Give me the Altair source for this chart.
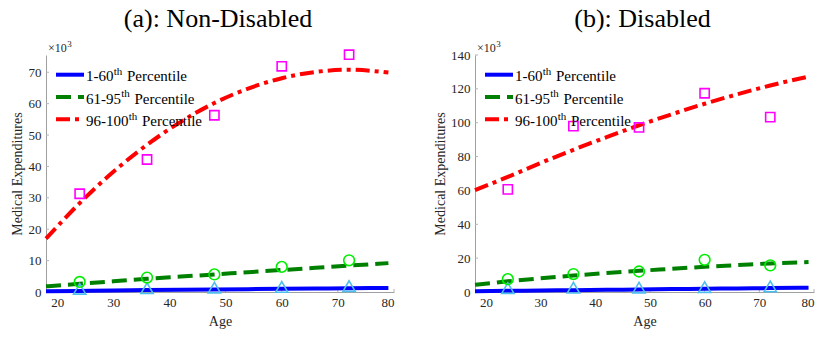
import altair as alt
import pandas as pd

SERIF = "'Liberation Serif', 'Times New Roman', Times, serif"

# Fitted profiles (thousands of dollars) by age
ages_fit = [18, 24, 30, 36, 42, 48, 54, 60, 66, 72, 79]
nd_low_fit = [0.2, 0.35, 0.5, 0.6, 0.7, 0.8, 0.9, 1.0, 1.1, 1.2, 1.3]
nd_mid_fit = [1.8, 2.6, 3.4, 4.2, 4.9, 5.6, 6.3, 7.0, 7.7, 8.4, 9.2]
nd_high_fit = [17.0, 28.3, 38.3, 46.9, 54.2, 60.2, 64.8, 68.1, 70.1, 70.8, 69.9]
d_low_fit = [0.5, 0.7, 0.9, 1.1, 1.3, 1.5, 1.7, 1.9, 2.1, 2.3, 2.5]
d_mid_fit = [4.3, 6.3, 8.1, 9.7, 11.2, 12.5, 13.7, 14.9, 15.9, 16.9, 17.7]
d_high_fit = [60.2, 68.0, 76.2, 84.0, 91.4, 98.5, 105.0, 111.2, 116.8, 122.0, 127.2]

# Observed group means by age
ages_obs = [24, 36, 48, 60, 72]
nd_low_obs = [1.0, 1.2, 1.4, 1.6, 1.9]
nd_mid_obs = [3.2, 4.6, 5.6, 8.0, 10.1]
nd_high_obs = [31.3, 42.2, 56.3, 71.9, 75.6]
d_low_obs = [2.3, 2.5, 2.6, 2.9, 3.3]
d_mid_obs = [7.6, 10.6, 12.1, 19.0, 15.7]
d_high_obs = [60.6, 98.0, 97.2, 117.4, 103.3]

group_numbers = ["1-60", "61-95", "96-100"]
x_ticks = [20, 30, 40, 50, 60, 70, 80]
nd_y_ticks = [0, 10, 20, 30, 40, 50, 60, 70]
d_y_ticks = [0, 20, 40, 60, 80, 100, 120, 140]

PLOT_H = 237
AXIS_GRAY = "#a0a0a0"
TICK_GRAY = "#b4b4b4"
LABEL_GRAY = "#262626"
CANVAS_W, CANVAS_H = 828, 337
ORIGIN_X, ORIGIN_Y = 46, 55

LINE_STYLES = [
    dict(color="#0000ff"),
    dict(color="#008000", strokeDash=[15, 7]),
    dict(color="#ff0000", strokeDash=[14, 5, 4, 5]),
]
MARKERS = [
    dict(shape="triangle-up", color="#4dbeee", size=150),
    dict(shape="circle", color="#00ee00", size=115),
    dict(shape="square", color="#ff00ff", size=85),
]


def text_width(s, size):
    widths = {"-": 0.333, "x": 0.564}
    return sum(widths.get(c, 0.5) for c in s) * size


def legend_entry(i, num, style):
    y0 = 19.7 + 22.3 * i
    d = pd.DataFrame({"num": [num]})
    rule = alt.Chart(d).mark_rule(strokeWidth=4, **style).encode(
        x=alt.value(10), x2=alt.value(38), y=alt.value(y0)
    )
    txt_kw = dict(align="left", baseline="alphabetic", font=SERIF, color="black")
    w = text_width(num, 15)
    number = alt.Chart(d).mark_text(fontSize=15, **txt_kw).encode(
        x=alt.value(40), y=alt.value(y0 + 6.6), text="num:N"
    )
    sup = alt.Chart(d).mark_text(fontSize=11, text="th", **txt_kw).encode(
        x=alt.value(40 + w + 0.3), y=alt.value(y0 + 0.2)
    )
    pct = alt.Chart(d).mark_text(fontSize=15, text="Percentile", **txt_kw).encode(
        x=alt.value(40 + w + 13.5), y=alt.value(y0 + 6.6)
    )
    return [rule, number, sup, pct]


def panel(title, fits, obs, y_max, y_ticks, width, title_x):
    x_scale = alt.Scale(domain=[18, 80], nice=False, zero=False)
    y_scale = alt.Scale(domain=[0, y_max], nice=False)
    x_enc = alt.X(
        "age:Q", scale=x_scale,
        axis=alt.Axis(
            values=x_ticks, title="Age", titleY=33, titleBaseline="alphabetic",
            labelPadding=4,
        ),
    )
    y_enc = alt.Y(
        "value:Q", scale=y_scale,
        axis=alt.Axis(
            values=y_ticks, title="Medical Expenditures", titleX=title_x,
            titleY=PLOT_H / 2, titleBaseline="alphabetic", titleAngle=-90,
            labelPadding=5,
        ),
    )
    layers = []

    # short inward tick marks on both axes
    yt = pd.DataFrame({"value": y_ticks})
    layers.append(
        alt.Chart(yt).mark_rule(color=TICK_GRAY, strokeWidth=1)
        .encode(y=y_enc, x=alt.value(0), x2=alt.value(3))
    )
    xt = pd.DataFrame({"age": x_ticks})
    layers.append(
        alt.Chart(xt).mark_rule(color=TICK_GRAY, strokeWidth=1)
        .encode(x=x_enc, y=alt.value(PLOT_H), y2=alt.value(PLOT_H - 3))
    )

    for vals, style in zip(fits, LINE_STYLES):
        df = pd.DataFrame({"age": ages_fit, "value": vals})
        layers.append(
            alt.Chart(df).mark_line(strokeWidth=4, interpolate="monotone", **style)
            .encode(x=x_enc, y=y_enc)
        )
    for vals, m in zip(obs, MARKERS):
        df = pd.DataFrame({"age": ages_obs, "value": vals})
        layers.append(
            alt.Chart(df).mark_point(filled=False, strokeWidth=1.6, opacity=1, **m)
            .encode(x=x_enc, y=y_enc)
        )
    for i, (num, style) in enumerate(zip(group_numbers, LINE_STYLES)):
        layers.extend(legend_entry(i, num, style))

    t = pd.DataFrame({"title": [title]})
    layers.append(
        alt.Chart(t).mark_text(fontSize=26, font=SERIF, color="black",
                               baseline="alphabetic", align="center")
        .encode(x=alt.value(width / 2 - 2), y=alt.value(-28), text="title:N")
    )
    layers.append(
        alt.Chart(t).mark_text(fontSize=12, font=SERIF, color=LABEL_GRAY,
                               baseline="alphabetic", align="left", text="\u00d710")
        .encode(x=alt.value(2), y=alt.value(-3))
    )
    layers.append(
        alt.Chart(t).mark_text(fontSize=9, font=SERIF, color=LABEL_GRAY,
                               baseline="alphabetic", align="left", text="3")
        .encode(x=alt.value(2 + text_width("x10", 12) + 0.5), y=alt.value(-8))
    )
    return alt.layer(*layers).properties(width=width, height=PLOT_H)


left = panel(
    "(a): Non-Disabled",
    [nd_low_fit, nd_mid_fit, nd_high_fit],
    [nd_low_obs, nd_mid_obs, nd_high_obs],
    75.5, nd_y_ticks, 348, -25,
)
right = panel(
    "(b): Disabled",
    [d_low_fit, d_mid_fit, d_high_fit],
    [d_low_obs, d_mid_obs, d_high_obs],
    140, d_y_ticks, 339, -31,
)

# With autosize "none" the concat has no own size, so the padding spans the page
chart = (
    alt.hconcat(left, right, spacing=81, bounds="flush")
    .properties(
        autosize=alt.AutoSizeParams(type="none"),
        padding={
            "left": ORIGIN_X, "top": ORIGIN_Y,
            "right": CANVAS_W - ORIGIN_X, "bottom": CANVAS_H - ORIGIN_Y,
        },
    )
    .configure_view(stroke=None)
    .configure_axis(
        grid=False, ticks=False, tickSize=0, domainColor=AXIS_GRAY, domainWidth=1,
        labelFont=SERIF, labelFontSize=13, labelColor=LABEL_GRAY,
        titleFont=SERIF, titleFontSize=14, titleFontWeight="normal",
        titleColor=LABEL_GRAY,
    )
)

chart.save("out.html", embed_options={"renderer": "svg", "actions": False})
